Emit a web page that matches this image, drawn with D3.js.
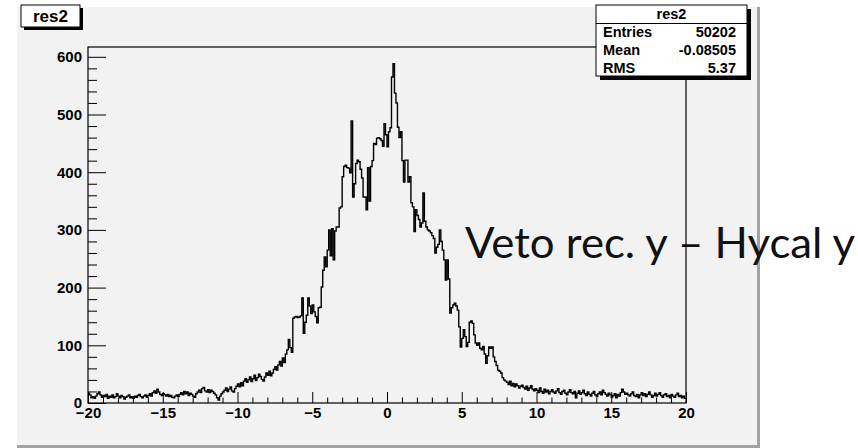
<!DOCTYPE html>
<html><head><meta charset="utf-8">
<script src="https://cdn.jsdelivr.net/npm/d3@7"></script>
<style>html,body{margin:0;padding:0;background:#fff;}svg{display:block;}</style>
</head><body>
<svg id="c" width="858" height="448"></svg>
<script>
// ---- data ----
const histName = "res2";
const xRange = [-20, 20];
const nBins = 400;
const counts = [
17,14,9,11,8,12,16,19,14,10,
13,11,15,8,12,10,14,9,11,16,
12,9,13,11,7,10,12,14,9,11,
8,12,10,13,15,11,9,12,14,10,
13,16,12,18,21,17,24,19,15,13,
16,14,12,15,11,13,10,9,12,14,
11,15,18,14,20,16,19,13,17,15,
12,10,16,19,22,18,25,27,21,19,
23,18,22,20,17,14,9,5,12,16,
19,22,26,20,24,28,21,19,25,29,
33,28,35,30,38,42,36,40,45,37,
42,48,39,44,50,46,41,38,45,52,
48,55,47,52,58,63,57,66,72,64,
78,70,85,92,110,96,88,147,149,150,
148,149,151,182,121,140,152,182,168,155,
170,158,150,139,165,166,201,230,253,236,
265,300,255,302,248,298,305,305,338,340,
392,410,412,408,407,399,489,357,380,415,
421,418,405,390,357,357,335,408,350,410,
420,450,448,459,460,458,455,445,484,465,
444,470,477,565,588,537,520,478,460,470,
420,383,421,421,383,392,347,340,297,335,
325,318,305,312,364,315,305,300,298,295,
290,285,260,270,275,300,280,265,248,213,
248,215,156,165,170,173,168,161,132,97,
112,127,115,98,105,140,142,138,118,104,
100,104,95,92,98,85,69,82,97,95,
97,80,72,65,57,55,52,44,40,38,
36,32,38,30,34,28,33,30,26,29,
31,27,24,29,22,26,30,24,21,25,
22,18,26,20,17,24,19,22,16,20,
23,19,17,21,25,18,15,20,22,17,
14,19,23,18,16,20,9,17,21,15,
18,22,16,13,19,15,12,17,20,14,
11,16,19,14,22,18,15,12,17,14,
10,13,16,9,15,12,18,24,19,15,
17,14,12,16,19,13,11,15,9,14,
18,13,16,11,15,19,14,10,13,17,
12,15,18,13,10,14,16,11,13,9,
15,12,10,14,17,11,13,9,12,8
];
const xTicks = [-20,-15,-10,-5,0,5,10,15,20];
const yTicks = [0,100,200,300,400,500,600];
const yMax = 617;
const statsLabels = ["Entries","Mean","RMS"];
const statsValues = ["50202","-0.08505","5.37"];
const annotation = "Veto rec. y \u2013 Hycal y";

// ---- drawing ----
const svg = d3.select("#c");
const F = "'Liberation Sans', Arial, Helvetica, sans-serif";

// canvas
svg.append("rect").attr("x",17).attr("y",7).attr("width",741).attr("height",439).attr("fill","#f2f2f2");
svg.append("rect").attr("x",757).attr("y",7).attr("width",3).attr("height",441).attr("fill","#a3a3a3");
svg.append("rect").attr("x",17).attr("y",445).attr("width",743).attr("height",3).attr("fill","#a3a3a3");

const L=88,R=686,T=47,B=403;
const x = d3.scaleLinear().domain(xRange).range([L,R]);
const y = d3.scaleLinear().domain([0,yMax]).range([B,T]);

// histogram step line
const bw = (xRange[1]-xRange[0])/nBins;
const pts = counts.map((c,i)=>[xRange[0]+i*bw, c]);
pts.push([xRange[1], counts[counts.length-1]]);
svg.append("path").datum(pts)
  .attr("d", d3.line().x(d=>x(d[0])).y(d=>y(d[1])).curve(d3.curveStepAfter))
  .attr("fill","none").attr("stroke","#000").attr("stroke-width",1.4);

// minor ticks
const xMinor = d3.range(-20,20.001,1).filter(v=>!xTicks.includes(v));
const yMinor = d3.range(0,yMax,20).filter(v=>!yTicks.includes(v));
svg.append("g").attr("transform",`translate(0,${B})`)
  .call(d3.axisBottom(x).tickValues(xMinor).tickSize(-5.5).tickFormat(""))
  .call(g=>g.select(".domain").remove());
svg.append("g").attr("transform",`translate(${L},0)`)
  .call(d3.axisLeft(y).tickValues(yMinor).tickSize(-9).tickFormat(""))
  .call(g=>g.select(".domain").remove());

// major ticks + labels
const gx = svg.append("g").attr("transform",`translate(0,${B})`)
  .call(d3.axisBottom(x).tickValues(xTicks).tickSize(-11).tickPadding(4).tickFormat(d3.format("d")));
gx.select(".domain").remove();
gx.selectAll("text").attr("font-family",F).attr("font-weight","bold").attr("font-size",15).attr("fill","#000");
const gy = svg.append("g").attr("transform",`translate(${L},0)`)
  .call(d3.axisLeft(y).tickValues(yTicks).tickSize(-18).tickPadding(6).tickFormat(d3.format("d")));
gy.select(".domain").remove();
gy.selectAll("text").attr("font-family",F).attr("font-weight","bold").attr("font-size",15).attr("fill","#000");
svg.selectAll(".tick line").attr("stroke","#000").attr("stroke-width",1);

// frame
svg.append("rect").attr("x",L).attr("y",T).attr("width",R-L).attr("height",B-T)
  .attr("fill","none").attr("stroke","#000").attr("stroke-width",1.2);

// title box
svg.append("rect").attr("x",24).attr("y",8).attr("width",59).attr("height",22).attr("fill","#000");
svg.append("rect").attr("x",21).attr("y",5).attr("width",59).attr("height",22).attr("fill","#fff").attr("stroke","#000").attr("stroke-width",1);
svg.append("text").attr("x",50.5).attr("y",16).attr("dy","0.35em").attr("text-anchor","middle")
  .attr("font-family",F).attr("font-weight","bold").attr("font-size",17).text(histName);

// stats box
const sx=596, sy=5, sw=151, sh=71;
svg.append("rect").attr("x",sx+4).attr("y",sy+4).attr("width",sw).attr("height",sh).attr("fill","#000");
svg.append("rect").attr("x",sx).attr("y",sy).attr("width",sw).attr("height",sh).attr("fill","#fff").attr("stroke","#000").attr("stroke-width",1);
svg.append("line").attr("x1",sx).attr("x2",sx+sw).attr("y1",23.5).attr("y2",23.5).attr("stroke","#000");
svg.append("text").attr("x",sx+sw/2).attr("y",13.5).attr("dy","0.35em").attr("text-anchor","middle")
  .attr("font-family",F).attr("font-weight","bold").attr("font-size",14.5).text(histName);
statsLabels.forEach((lab,i)=>{
  const cy = 32 + i*18;
  svg.append("text").attr("x",603).attr("y",cy).attr("dy","0.35em")
    .attr("font-family",F).attr("font-weight","bold").attr("font-size",14.5).text(lab);
  svg.append("text").attr("x",736).attr("y",cy).attr("dy","0.35em").attr("text-anchor","end")
    .attr("font-family",F).attr("font-weight","bold").attr("font-size",14.5).text(statsValues[i]);
});

// annotation
svg.append("text").attr("x",465).attr("y",258)
  .attr("font-family","Lato, 'Open Sans', sans-serif").attr("font-size",42).attr("fill","#111")
  .attr("textLength",390).attr("lengthAdjust","spacingAndGlyphs").text(annotation);
</script>
</body></html>
